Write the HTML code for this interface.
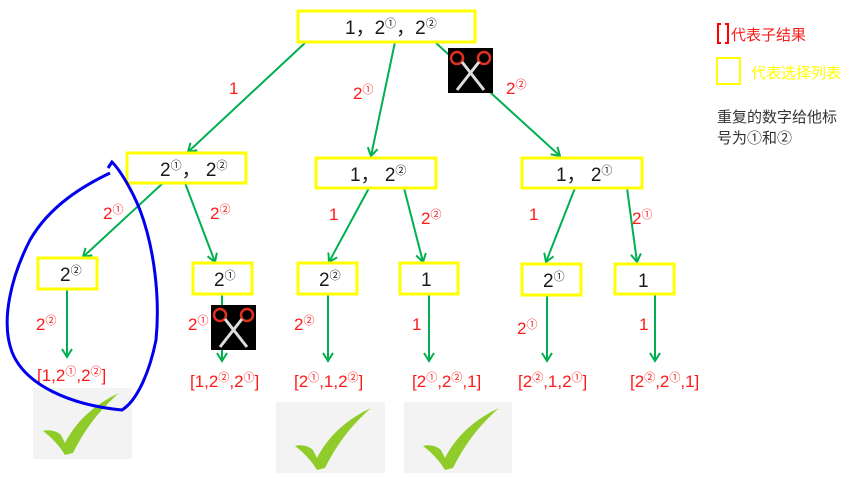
<!DOCTYPE html>
<html><head><meta charset="utf-8"><style>
html,body{margin:0;padding:0;background:#fff;}
svg{display:block;}
text{font-family:"Liberation Sans","Noto Sans CJK SC",sans-serif;}
.b{fill:#1a1a1a;font-size:19px;}
.r{fill:#ff1a1a;font-size:17px;}
.rr{fill:#ff1a1a;font-size:17px;}
.box{fill:#fff;stroke:#ffff00;stroke-width:3;}
.e{stroke:#00b050;stroke-width:2;fill:none;marker-end:url(#ah);}
</style></head><body>
<svg width="865" height="479" viewBox="0 0 865 479" xmlns="http://www.w3.org/2000/svg">
<defs>
<marker id="ah" markerWidth="12" markerHeight="12" refX="9" refY="6" orient="auto" markerUnits="userSpaceOnUse">
<path d="M1,1 L9,6 L1,11" fill="none" stroke="#00b050" stroke-width="2"/>
</marker>
<g id="sc">
<rect x="0" y="0" width="45" height="45" fill="#000"/>
<circle cx="9" cy="10" r="6" fill="none" stroke="#e03020" stroke-width="2.5"/>
<circle cx="36" cy="10" r="6" fill="none" stroke="#e03020" stroke-width="2.5"/>
<path d="M14,14 L36,42 M31,14 L9,42" stroke="#ddd" stroke-width="3"/>
</g>
<g id="ck">
<path d="M0,38 C6,36 14,38 18,42 L22,50 C32,30 50,12 76,0 C60,14 44,32 30,60 L22,62 C16,52 8,44 0,38 Z" fill="#8fcc2a"/>
</g>
</defs>

<!-- edges -->
<path class="e" d="M306,42 L188,152"/>
<path class="e" d="M395,42 L371,156"/>
<path class="e" d="M436,43 L560,156"/>
<path class="e" d="M163,183 L83,257"/>
<path class="e" d="M185,183 L215,262"/>
<path class="e" d="M369,188 L329,262"/>
<path class="e" d="M404,188 L423,262"/>
<path class="e" d="M575,188 L546,262"/>
<path class="e" d="M627,188 L637,262"/>
<path class="e" d="M67,289 L67,357"/>
<path class="e" d="M222,294 L222,361"/>
<path class="e" d="M328,294 L328,361"/>
<path class="e" d="M429,294 L429,361"/>
<path class="e" d="M547,294 L547,361"/>
<path class="e" d="M655,294 L655,361"/>

<!-- boxes -->
<rect class="box" x="298" y="11" width="177" height="31"/>
<text class="b" x="345" y="34">1，2<tspan font-size="11" dy="-7">①</tspan><tspan dy="7">，2</tspan><tspan font-size="11" dy="-7">②</tspan></text>
<rect class="box" x="127" y="153" width="119" height="30"/>
<text class="b" x="160" y="176">2<tspan font-size="11" dy="-7">①</tspan><tspan dy="7">，  2</tspan><tspan font-size="11" dy="-7">②</tspan></text>
<rect class="box" x="316" y="158" width="120" height="30"/>
<text class="b" x="350" y="181">1，  2<tspan font-size="11" dy="-7">②</tspan></text>
<rect class="box" x="522" y="158" width="120" height="30"/>
<text class="b" x="556" y="181">1，  2<tspan font-size="11" dy="-7">①</tspan></text>

<rect class="box" x="38" y="258" width="59" height="31"/>
<text class="b" x="60" y="281">2<tspan font-size="11" dy="-7">②</tspan></text>
<rect class="box" x="193" y="263" width="59" height="31"/>
<text class="b" x="214" y="286">2<tspan font-size="11" dy="-7">①</tspan></text>
<rect class="box" x="298" y="263" width="59" height="31"/>
<text class="b" x="319" y="286">2<tspan font-size="11" dy="-7">②</tspan></text>
<rect class="box" x="400" y="263" width="58" height="31"/>
<text class="b" x="421" y="286">1</text>
<rect class="box" x="522" y="264" width="59" height="31"/>
<text class="b" x="543" y="287">2<tspan font-size="11" dy="-7">①</tspan></text>
<rect class="box" x="615" y="264" width="59" height="30"/>
<text class="b" x="638" y="287">1</text>

<!-- edge labels -->
<text class="r" x="229" y="94">1</text>
<text class="r" x="353" y="99">2<tspan font-size="11" dy="-6">①</tspan></text>
<text class="r" x="506" y="94">2<tspan font-size="11" dy="-6">②</tspan></text>
<text class="r" x="103" y="219">2<tspan font-size="11" dy="-6">①</tspan></text>
<text class="r" x="210" y="219">2<tspan font-size="11" dy="-6">②</tspan></text>
<text class="r" x="329" y="220">1</text>
<text class="r" x="421" y="224">2<tspan font-size="11" dy="-6">②</tspan></text>
<text class="r" x="529" y="220">1</text>
<text class="r" x="632" y="224">2<tspan font-size="11" dy="-6">①</tspan></text>
<text class="r" x="36" y="330">2<tspan font-size="11" dy="-6">②</tspan></text>
<text class="r" x="188" y="330">2<tspan font-size="11" dy="-6">①</tspan></text>
<text class="r" x="294" y="330">2<tspan font-size="11" dy="-6">②</tspan></text>
<text class="r" x="412" y="330">1</text>
<text class="r" x="517" y="334">2<tspan font-size="11" dy="-6">①</tspan></text>
<text class="r" x="639" y="330">1</text>

<!-- results -->
<text class="rr" x="37" y="381">[1,2<tspan font-size="11" dy="-6">①</tspan><tspan dy="6">,2</tspan><tspan font-size="11" dy="-6">②</tspan><tspan dy="6">]</tspan></text>
<text class="rr" x="190" y="387">[1,2<tspan font-size="11" dy="-6">②</tspan><tspan dy="6">,2</tspan><tspan font-size="11" dy="-6">①</tspan><tspan dy="6">]</tspan></text>
<text class="rr" x="294" y="387">[2<tspan font-size="11" dy="-6">①</tspan><tspan dy="6">,1,2</tspan><tspan font-size="11" dy="-6">②</tspan><tspan dy="6">]</tspan></text>
<text class="rr" x="412" y="387">[2<tspan font-size="11" dy="-6">①</tspan><tspan dy="6">,2</tspan><tspan font-size="11" dy="-6">②</tspan><tspan dy="6">,1]</tspan></text>
<text class="rr" x="518" y="387">[2<tspan font-size="11" dy="-6">②</tspan><tspan dy="6">,1,2</tspan><tspan font-size="11" dy="-6">①</tspan><tspan dy="6">]</tspan></text>
<text class="rr" x="630" y="387">[2<tspan font-size="11" dy="-6">②</tspan><tspan dy="6">,2</tspan><tspan font-size="11" dy="-6">①</tspan><tspan dy="6">,1]</tspan></text>

<!-- check boxes -->
<rect x="33" y="388" width="99" height="71" fill="#f3f3f3"/>
<use href="#ck" x="43" y="393"/>
<rect x="276" y="402" width="109" height="71" fill="#f3f3f3"/>
<use href="#ck" x="295" y="408"/>
<rect x="404" y="402" width="108" height="71" fill="#f3f3f3"/>
<use href="#ck" x="423" y="408"/>

<!-- scissors -->
<use href="#sc" x="448" y="48"/>
<use href="#sc" x="211" y="305"/>

<!-- blue loop -->
<path d="M110,173 C85,185 50,205 30,240 C12,275 0,320 12,352 C25,385 70,405 122,410 C138,400 150,370 156,340 C160,300 155,250 140,210 C132,190 120,170 112,162 L108,168" fill="none" stroke="#0000ee" stroke-width="3"/>

<!-- legend -->
<path d="M721,24 L718,24 L718,43 L721,43 M725,24 L728,24 L728,43 L725,43" fill="none" stroke="#ff0000" stroke-width="2"/>
<text x="731" y="40" fill="#ff1a1a" font-size="15" font-family="'Liberation Serif','Noto Serif CJK SC',serif">代表子结果</text>
<rect x="717" y="58" width="23" height="26" fill="none" stroke="#ffff00" stroke-width="2"/>
<text x="751" y="78" fill="#ffff00" font-size="15" font-family="'Liberation Serif','Noto Serif CJK SC',serif">代表选择列表</text>
<text x="717" y="122" fill="#333" font-size="15" font-family="'Liberation Serif','Noto Serif CJK SC',serif">重复的数字给他标</text>
<text x="717" y="143" fill="#333" font-size="15" font-family="'Liberation Serif','Noto Serif CJK SC',serif">号为①和②</text>
</svg>
</body></html>
